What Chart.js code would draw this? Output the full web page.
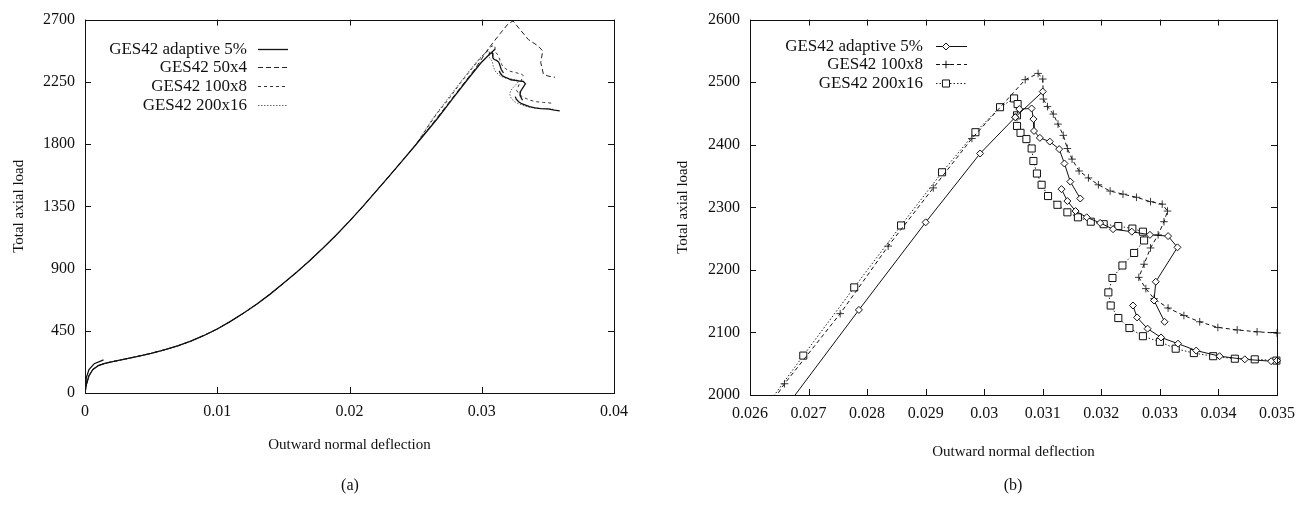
<!DOCTYPE html>
<html>
<head>
<meta charset="utf-8">
<script src="https://cdn.jsdelivr.net/npm/chart.js@4/dist/chart.umd.min.js"></script>
<style>
  body { margin: 0; background: #fff; width: 1311px; height: 510px; position: relative; overflow: hidden; font-family: "Liberation Serif", serif; color: #111; }
  .box { position: absolute; top: 0; height: 510px; }
  #boxA { left: 0; width: 640px; }
  #boxB { left: 660px; width: 651px; }
  .cap { position: absolute; top: 476px; width: 60px; text-align: center; font-size: 16px; }
</style>
</head>
<body>
<div class="box" id="boxA"><canvas id="chartA"></canvas></div>
<div class="box" id="boxB"><canvas id="chartB"></canvas></div>
<div class="cap" style="left:320px">(a)</div>
<div class="cap" style="left:983px">(b)</div>
<script>
// ---- data (x = outward normal deflection, y = total axial load) ----
const seriesNames = ['GES42 adaptive 5%', 'GES42 50x4', 'GES42 100x8', 'GES42 200x16'];

const xTicksA = [0, 0.01, 0.02, 0.03, 0.04];
const yTicksA = [0, 450, 900, 1350, 1800, 2250, 2700];
const xTicksB = [0.026, 0.027, 0.028, 0.029, 0.03, 0.031, 0.032, 0.033, 0.034, 0.035];
const yTicksB = [2000, 2100, 2200, 2300, 2400, 2500, 2600];

// early branch of the adaptive run (small hook near the origin)
const adaptiveHook = [[0, 0], [0.0001, 110], [0.0003, 170], [0.0007, 212], [0.0014, 240]];

// loading path shared by all meshes up to ~0.025
const baseLoad = [[0, 0], [0.0001, 60], [0.0003, 125], [0.0006, 170], [0.001, 198], [0.0015, 214], [0.002, 225],
  [0.003, 245], [0.004, 265], [0.005, 287], [0.006, 312], [0.007, 340], [0.008, 375], [0.009, 416], [0.010, 463],
  [0.011, 518], [0.012, 578], [0.013, 643], [0.014, 715], [0.015, 793], [0.016, 873], [0.017, 958], [0.018, 1048],
  [0.019, 1143], [0.020, 1243], [0.021, 1348], [0.022, 1458], [0.023, 1568], [0.024, 1680], [0.025, 1793]];

// null = break between restarted segments
const adaptive5 = [
  [0.02665, 1985], [0.02786, 2136], [0.0290, 2276], [0.02993, 2386], [0.03053, 2444], [0.03100, 2485],
  null,
  [0.03053, 2444], [0.03060, 2457], [0.03081, 2458], [0.03084, 2441], [0.03085, 2422], [0.03095, 2411],
  [0.03112, 2405], [0.03128, 2393], [0.03137, 2370], [0.03147, 2341], [0.03164, 2314],
  null,
  [0.03132, 2329], [0.03142, 2310], [0.03156, 2294], [0.03175, 2284], [0.03198, 2275], [0.0322, 2265],
  [0.03252, 2261], [0.03283, 2256], [0.03314, 2254], [0.0333, 2236], [0.03293, 2181], [0.0329, 2151], [0.03308, 2117],
  null,
  [0.03254, 2143], [0.03261, 2124], [0.03279, 2106], [0.03302, 2092], [0.03331, 2082], [0.03362, 2071],
  [0.03402, 2062], [0.03445, 2057], [0.0349, 2054], [0.035, 2055]
];
const adaptiveTail = [[0.0355, 2046], [0.0359, 2040]];

const mesh50x4 = [[0.0265, 1975], [0.028, 2160], [0.0295, 2345], [0.0305, 2490], [0.0314, 2600], [0.0320, 2670],
  [0.03236, 2690], [0.03352, 2556], [0.03428, 2508], [0.03461, 2473], [0.03446, 2390], [0.03466, 2307],
  [0.0350, 2292], [0.03554, 2283]];

const mesh100x8 = [
  [0.02635, 1985], [0.02659, 2018], [0.02754, 2130], [0.02836, 2238], [0.02913, 2331], [0.02979, 2410],
  [0.0307, 2504], [0.03092, 2514], [0.031, 2505], [0.03101, 2473], [0.03108, 2461], [0.03118, 2449],
  [0.03126, 2433], [0.03135, 2415], [0.03142, 2394], [0.0315, 2377], [0.03162, 2358], [0.03178, 2347],
  [0.03195, 2336], [0.03215, 2326], [0.03237, 2321], [0.0326, 2316], [0.03284, 2309], [0.03304, 2305],
  [0.03313, 2294], [0.03307, 2277], [0.03297, 2256], [0.03284, 2235], [0.03273, 2209], [0.03264, 2188],
  [0.03276, 2170], [0.0329, 2154], [0.03314, 2139], [0.03341, 2127], [0.03368, 2117], [0.03399, 2108],
  [0.03432, 2104], [0.03466, 2101], [0.035, 2099]
];
const mesh100x8Tail = [[0.0353, 2095]];

const mesh200x16 = [
  [0.0263, 1985], [0.02691, 2063], [0.02778, 2172], [0.02858, 2271], [0.02928, 2356], [0.02985, 2420],
  [0.03027, 2460], [0.03051, 2474], [0.03057, 2465], [0.03056, 2447], [0.03056, 2430], [0.03062, 2419],
  [0.03072, 2409], [0.03081, 2394], [0.03084, 2374], [0.0309, 2354], [0.03098, 2336], [0.03109, 2318],
  [0.03125, 2304], [0.03142, 2292], [0.0316, 2284], [0.03182, 2277], [0.03204, 2273], [0.03229, 2270],
  [0.03253, 2266], [0.03271, 2261], [0.03273, 2247], [0.03256, 2227], [0.03236, 2207], [0.03219, 2187],
  [0.03212, 2164], [0.03216, 2143], [0.03229, 2123], [0.03248, 2107], [0.03271, 2094], [0.033, 2085],
  [0.03327, 2074], [0.03358, 2067], [0.03391, 2062], [0.03428, 2058], [0.03462, 2057], [0.03499, 2055]
];
const mesh200x16Tail = [[0.0354, 2052]];

// ---- helpers ----
const F = 'Liberation Serif';
Chart.defaults.font.family = F;
Chart.defaults.color = '#111';

function pts(list) {
  return list.map(p => p ? { x: p[0], y: p[1] } : { x: null, y: null });
}
const fmt = v => String(parseFloat(Number(v).toFixed(4)));

// frame, inward mirrored ticks and gnuplot-style legend
const framePlugin = {
  id: 'frame',
  afterDraw(chart, args, o) {
    const { ctx, chartArea: a, scales } = chart;
    ctx.save();
    ctx.strokeStyle = '#111';
    ctx.lineWidth = 1;
    ctx.setLineDash([]);
    ctx.strokeRect(Math.round(a.left) + 0.5, Math.round(a.top) + 0.5, Math.round(a.width), Math.round(a.height));
    const L = 6;
    ctx.beginPath();
    scales.x.ticks.forEach(t => {
      const px = Math.round(scales.x.getPixelForValue(t.value)) + 0.5;
      ctx.moveTo(px, a.bottom); ctx.lineTo(px, a.bottom - L);
      ctx.moveTo(px, a.top); ctx.lineTo(px, a.top + L);
    });
    scales.y.ticks.forEach(t => {
      const py = Math.round(scales.y.getPixelForValue(t.value)) + 0.5;
      ctx.moveTo(a.left, py); ctx.lineTo(a.left + L, py);
      ctx.moveTo(a.right, py); ctx.lineTo(a.right - L, py);
    });
    ctx.stroke();

    // legend
    ctx.font = '17px "' + F + '"';
    ctx.textAlign = 'right';
    ctx.textBaseline = 'middle';
    chart.data.datasets.forEach((ds, i) => {
      const y = Math.round(a.top + o.y0 + i * o.dy) + 0.5;
      ctx.fillStyle = '#111';
      ctx.fillText(ds.label, a.left + o.tx, y);
      ctx.strokeStyle = ds.borderColor;
      ctx.lineWidth = ds.borderWidth;
      ctx.setLineDash(ds.borderDash || []);
      ctx.beginPath();
      ctx.moveTo(a.left + o.s0, y);
      ctx.lineTo(a.left + o.s1, y);
      ctx.stroke();
      ctx.setLineDash([]);
      if (ds.pointRadius > 0) {
        ctx.fillStyle = '#fff';
        ctx.strokeStyle = '#111';
        ctx.lineWidth = 1;
        Chart.helpers.drawPoint(ctx, { pointStyle: ds.pointStyle, radius: ds.pointRadius, borderWidth: 1, rotation: 0 }, a.left + o.s0 + 10, y);
      }
    });
    ctx.restore();
  }
};

function axes(xmin, xmax, xt, ymin, ymax, yt, xh, yw) {
  const tickFont = { family: F, size: 16 };
  const titleFont = { family: F, size: 15 };
  return {
    x: {
      type: 'linear', min: xmin, max: xmax,
      afterBuildTicks: s => { s.ticks = xt.map(v => ({ value: v })); },
      afterFit: s => { s.height = xh; },
      grid: { display: false, drawTicks: false },
      border: { display: false },
      ticks: { padding: 9, color: '#111', font: tickFont, maxRotation: 0, autoSkip: false, callback: v => fmt(v) },
      title: { display: true, text: 'Outward normal deflection', color: '#111', font: titleFont, padding: { top: 4, bottom: 4 } }
    },
    y: {
      type: 'linear', min: ymin, max: ymax,
      afterBuildTicks: s => { s.ticks = yt.map(v => ({ value: v })); },
      afterFit: s => { s.width = yw; },
      grid: { display: false, drawTicks: false },
      border: { display: false },
      ticks: { padding: 10, color: '#111', font: tickFont, autoSkip: false, callback: v => fmt(v) },
      title: { display: true, text: 'Total axial load', color: '#111', font: titleFont, padding: { top: 4, bottom: 4 } }
    }
  };
}

// ---- (a) full curves ----
new Chart(document.getElementById('chartA'), {
  type: 'scatter',
  data: {
    datasets: [
      { label: seriesNames[0], data: pts([...adaptiveHook, null, ...baseLoad, ...adaptive5, ...adaptiveTail]),
        borderColor: '#111', borderWidth: 1.3, pointRadius: 0 },
      { label: seriesNames[1], data: pts([...baseLoad, ...mesh50x4]),
        borderColor: '#222', borderWidth: 1, borderDash: [5, 3], pointRadius: 0 },
      { label: seriesNames[2], data: pts([...baseLoad, ...mesh100x8, ...mesh100x8Tail]),
        borderColor: '#333', borderWidth: 1, borderDash: [3, 3], pointRadius: 0 },
      { label: seriesNames[3], data: pts([...baseLoad, ...mesh200x16, ...mesh200x16Tail]),
        borderColor: '#666', borderWidth: 1, borderDash: [1.5, 1.5], pointRadius: 0 }
    ]
  },
  options: {
    responsive: true, maintainAspectRatio: false, animation: false, events: [],
    showLine: true,
    layout: { padding: { left: 6, right: 26, top: 13, bottom: 52 } },
    scales: axes(0, 0.04, xTicksA, 0, 2700, yTicksA, 65, 79),
    plugins: {
      legend: { display: false }, tooltip: { enabled: false },
      frame: { tx: 162, s0: 173, s1: 203, y0: 29, dy: 18.8 }
    }
  },
  plugins: [framePlugin]
});

// ---- (b) close-up of the limit-point region ----
const clipB = { left: 0, top: 0, right: 10, bottom: 0 };
new Chart(document.getElementById('chartB'), {
  type: 'scatter',
  data: {
    datasets: [
      { label: seriesNames[0], data: pts(adaptive5), clip: clipB,
        borderColor: '#111', borderWidth: 1, pointStyle: 'rectRot', pointRadius: 3.5,
        pointBackgroundColor: '#fff', pointBorderColor: '#111', pointBorderWidth: 1 },
      { label: seriesNames[2], data: pts(mesh100x8), clip: clipB,
        borderColor: '#111', borderWidth: 1, borderDash: [4, 3], pointStyle: 'cross', pointRadius: 3.8,
        pointBorderColor: '#222', pointBorderWidth: 0.9 },
      { label: seriesNames[3], data: pts(mesh200x16), clip: clipB,
        borderColor: '#222', borderWidth: 1, borderDash: [1.5, 2], pointStyle: 'rect', pointRadius: 5,
        pointBackgroundColor: '#fff', pointBorderColor: '#111', pointBorderWidth: 1 }
    ]
  },
  options: {
    responsive: true, maintainAspectRatio: false, animation: false, events: [],
    showLine: true,
    layout: { padding: { left: 10, right: 34, top: 17, bottom: 45 } },
    scales: axes(0.026, 0.035, xTicksB, 2000, 2600, yTicksB, 70, 80),
    plugins: {
      legend: { display: false }, tooltip: { enabled: false },
      frame: { tx: 173, s0: 186, s1: 217, y0: 26, dy: 18.5 }
    }
  },
  plugins: [framePlugin]
});
</script>
</body>
</html>
